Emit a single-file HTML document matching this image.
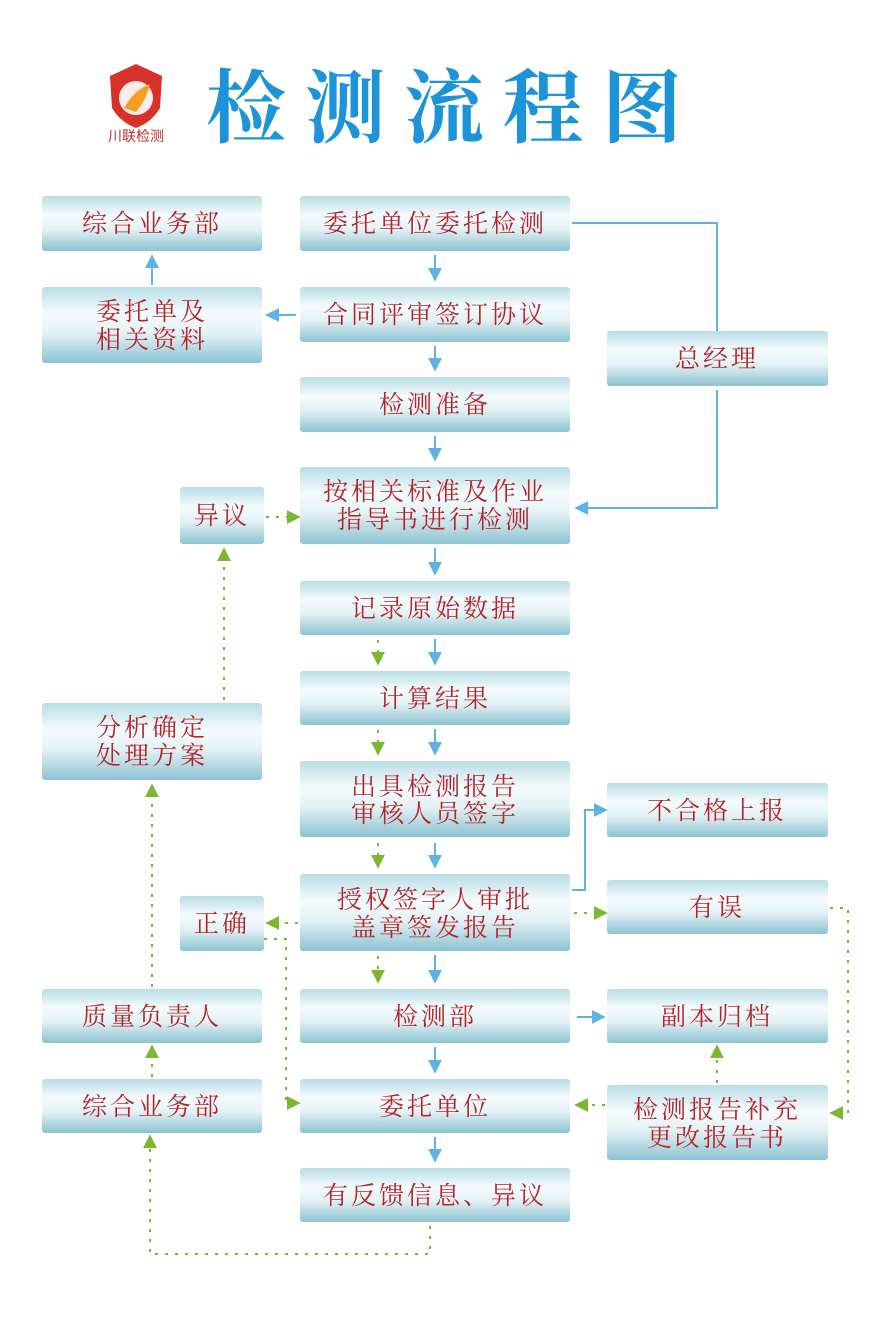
<!DOCTYPE html>
<html><head><meta charset="utf-8"><style>
body{margin:0;background:#fff;}
svg{display:block}
.t{font-family:"Liberation Serif","Noto Serif CJK SC",serif;fill:#b3262c;font-size:25px;letter-spacing:3px;text-anchor:middle;}
.b{stroke:#5fb3e2;stroke-width:2;fill:none}
.g{stroke:#7cb82f;stroke-width:2;fill:none;stroke-dasharray:3,7}
</style></head><body>
<svg width="886" height="1328" viewBox="0 0 886 1328" xmlns="http://www.w3.org/2000/svg">
<defs>
<linearGradient id="bx" x1="0" y1="0" x2="0" y2="1">
<stop offset="0" stop-color="#b9dde6"/><stop offset="0.35" stop-color="#f5fbfc"/><stop offset="0.6" stop-color="#e4f2f5"/><stop offset="1" stop-color="#8cc3d1"/>
</linearGradient>
<marker id="ab" viewBox="0 0 10 10" refX="8" refY="5" markerWidth="7" markerHeight="7" orient="auto"><path d="M0,0L10,5L0,10z" fill="#5fb3e2"/></marker>
<marker id="ag" viewBox="0 0 10 10" refX="8" refY="5" markerWidth="7" markerHeight="7" orient="auto"><path d="M0,0L10,5L0,10z" fill="#7cb82f"/></marker>
</defs>
<path d="M136,64 L162,76 L160,108 Q152,122 136,128 Q120,122 112,108 L110,76 Z" fill="#d6322a"/>
<circle cx="136" cy="98" r="17" fill="#fff" opacity="0.9"/>
<path d="M124,108 Q134,90 150,84 Q146,100 136,112 Z" fill="#f2a020"/>
<text x="136" y="141" style="font-family:'Noto Sans CJK SC',sans-serif;font-size:14px;fill:#c0302a;text-anchor:middle">川联检测</text>
<text x="206" y="136" style="font-family:'Noto Serif CJK SC',serif;font-size:80px;font-weight:bold;fill:#1d93d8;letter-spacing:19px">检测流程图</text>

<g fill="url(#bx)">
<rect x="300" y="196" width="270" height="55" rx="3"/>
<rect x="300" y="287" width="270" height="55" rx="3"/>
<rect x="300" y="377" width="270" height="55" rx="3"/>
<rect x="300" y="467" width="270" height="77" rx="3"/>
<rect x="300" y="581" width="270" height="54" rx="3"/>
<rect x="300" y="671" width="270" height="54" rx="3"/>
<rect x="300" y="761" width="270" height="76" rx="3"/>
<rect x="300" y="874" width="270" height="77" rx="3"/>
<rect x="300" y="989" width="270" height="54" rx="3"/>
<rect x="300" y="1079" width="270" height="54" rx="3"/>
<rect x="300" y="1168" width="270" height="54" rx="3"/>
<rect x="42" y="196" width="220" height="55" rx="3"/>
<rect x="42" y="287" width="220" height="76" rx="3"/>
<rect x="180" y="487" width="84" height="57" rx="3"/>
<rect x="42" y="703" width="220" height="77" rx="3"/>
<rect x="180" y="896" width="84" height="55" rx="3"/>
<rect x="42" y="989" width="220" height="54" rx="3"/>
<rect x="42" y="1079" width="220" height="54" rx="3"/>
<rect x="607" y="331" width="221" height="55" rx="3"/>
<rect x="607" y="783" width="221" height="54" rx="3"/>
<rect x="607" y="880" width="221" height="54" rx="3"/>
<rect x="607" y="989" width="221" height="54" rx="3"/>
<rect x="607" y="1085" width="221" height="75" rx="3"/>
</g>
<g class="t">
<text x="435" y="232">委托单位委托检测</text>
<text x="435" y="323">合同评审签订协议</text>
<text x="435" y="413">检测准备</text>
<text x="435" y="500">按相关标准及作业</text>
<text x="435" y="528">指导书进行检测</text>
<text x="435" y="617">记录原始数据</text>
<text x="435" y="707">计算结果</text>
<text x="435" y="795">出具检测报告</text>
<text x="435" y="822">审核人员签字</text>
<text x="435" y="908">授权签字人审批</text>
<text x="435" y="936">盖章签发报告</text>
<text x="435" y="1025">检测部</text>
<text x="435" y="1115">委托单位</text>
<text x="435" y="1204">有反馈信息、异议</text>
<text x="152" y="232">综合业务部</text>
<text x="152" y="320">委托单及</text>
<text x="152" y="348">相关资料</text>
<text x="222" y="524">异议</text>
<text x="152" y="736">分析确定</text>
<text x="152" y="764">处理方案</text>
<text x="222" y="932">正确</text>
<text x="152" y="1025">质量负责人</text>
<text x="152" y="1115">综合业务部</text>
<text x="717" y="367">总经理</text>
<text x="717" y="819">不合格上报</text>
<text x="717" y="916">有误</text>
<text x="717" y="1025">副本归档</text>
<text x="717" y="1118">检测报告补充</text>
<text x="717" y="1146">更改报告书</text>
</g>
<g class="b" marker-end="url(#ab)">
<path d="M435,255V279"/><path d="M435,346V369"/><path d="M435,436V459"/>
<path d="M435,548V573"/><path d="M435,639V663"/><path d="M435,729V753"/>
<path d="M435,843V866"/><path d="M435,955V981"/><path d="M435,1047V1071"/><path d="M435,1137V1160"/>
<path d="M296,315H268"/><path d="M152,285V257"/>
<path d="M717,390V508H577"/>
<path d="M572,890H585V810H605"/>
<path d="M577,1017H603"/>
</g>
<path class="b" d="M572,223H717V331"/>
<g class="g" marker-end="url(#ag)">
<path d="M378,640V663"/><path d="M378,730V753"/><path d="M378,843V866"/><path d="M378,956V981"/>
<path d="M266,517H298"/>
<path d="M224,700V550"/>
<path d="M152,987V786"/>
<path d="M152,1077V1047"/>
<path d="M298,923H268"/>
<path d="M264,939H286V1103H298"/>
<path d="M574,913H605"/>
<path d="M830,908H848V1113H832"/>
<path d="M717,1083V1047"/>
<path d="M605,1105H577"/>
<path d="M430,1226V1254H150V1137"/>
</g>
</svg>
</body></html>
